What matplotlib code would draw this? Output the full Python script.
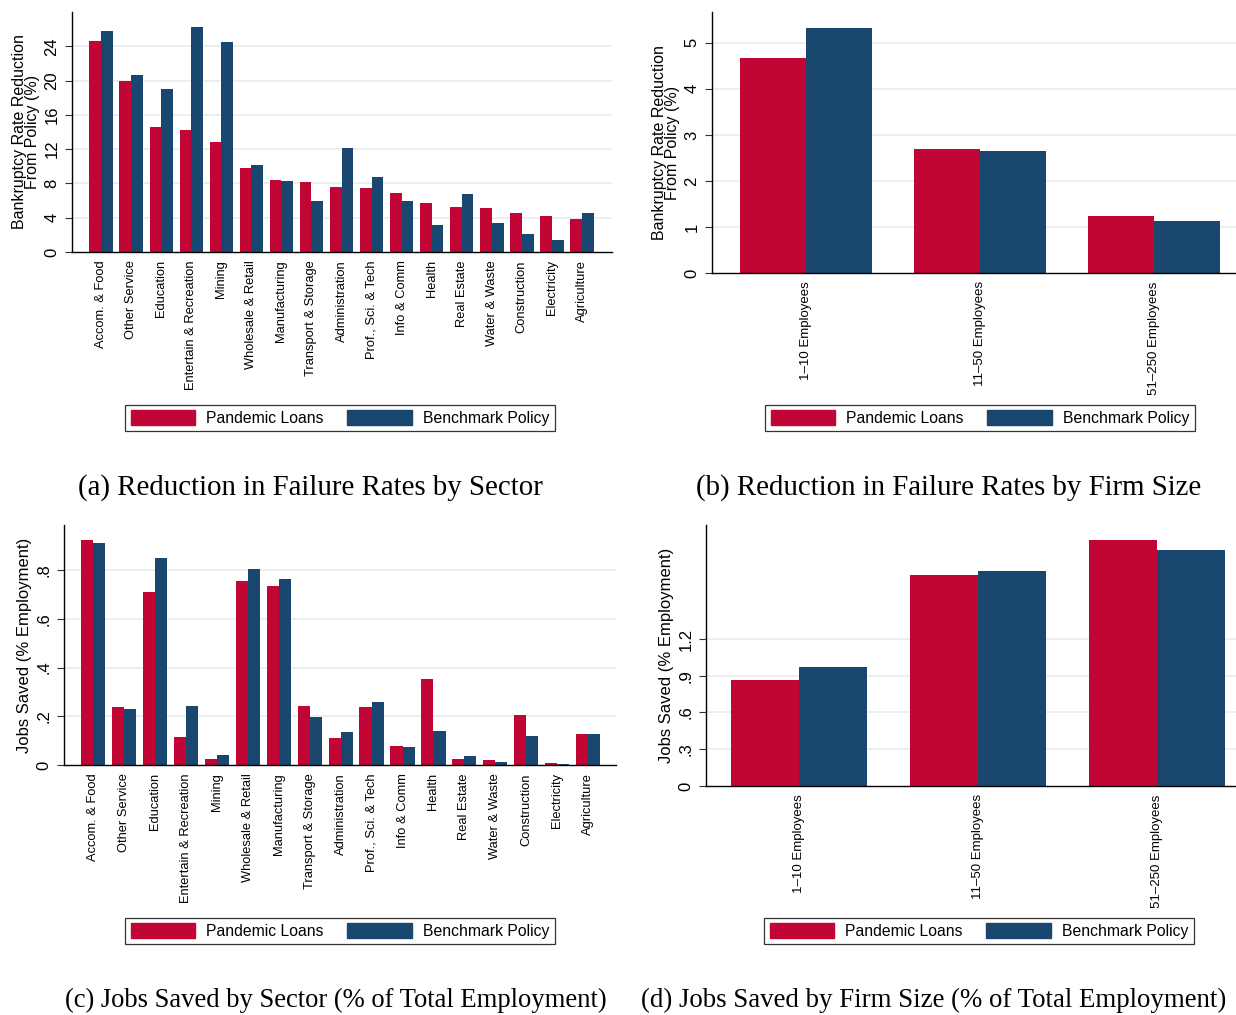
import numpy as np
import matplotlib
matplotlib.use("Agg")
import matplotlib.pyplot as plt
from matplotlib.patches import Patch

plt.rcParams['font.family'] = ['Liberation Sans', 'DejaVu Sans']

# sector data
sectors = ["Accom. & Food", "Other Service", "Education", "Entertain & Recreation",
           "Mining", "Wholesale & Retail", "Manufacturing", "Transport & Storage",
           "Administration", "Prof., Sci. & Tech", "Info & Comm", "Health",
           "Real Estate", "Water & Waste", "Construction", "Electricity", "Agriculture"]
fail_loans = [24.6, 19.9, 14.6, 14.2, 12.8, 9.8, 8.4, 8.2, 7.6, 7.5, 6.9, 5.7, 5.3, 5.1, 4.5, 4.2, 3.8]
fail_bench = [25.8, 20.6, 19.0, 26.3, 24.5, 10.2, 8.3, 5.9, 12.1, 8.8, 5.9, 3.2, 6.8, 3.4, 2.1, 1.4, 4.6]
jobs_loans = [0.925, 0.240, 0.709, 0.114, 0.023, 0.754, 0.735, 0.241, 0.110, 0.237,
              0.077, 0.353, 0.026, 0.021, 0.204, 0.007, 0.128]
jobs_bench = [0.912, 0.228, 0.849, 0.244, 0.043, 0.805, 0.765, 0.195, 0.134, 0.257,
              0.075, 0.139, 0.038, 0.014, 0.121, 0.004, 0.128]

# firm size data
sizes = ["1\u201310 Employees", "11\u201350 Employees", "51\u2013250 Employees"]
size_fail_loans = [4.66, 2.69, 1.23]
size_fail_bench = [5.32, 2.65, 1.12]
size_jobs_loans = [0.868, 1.722, 2.005]
size_jobs_bench = [0.971, 1.758, 1.924]

RED = "#C10534"
BLUE = "#1A476F"
GRID = "#E6EEF0"

W, H = 1236, 1015
fig = plt.figure(figsize=(W / 100, H / 100), dpi=100)


def px_axes(left, top, right, bottom):
    return fig.add_axes([left / W, 1 - bottom / H, (right - left) / W, (bottom - top) / H])


def draw(ax, cats, a, b, width, xlim, ylim, yticks, ylabels, ylabel, xfs, ylfs):
    x = np.arange(len(cats))
    ax.bar(x - width / 2, a, width, color=RED, zorder=2)
    ax.bar(x + width / 2, b, width, color=BLUE, zorder=2)
    ax.set_xlim(*xlim)
    ax.set_ylim(*ylim)
    ax.set_xticks(x)
    ax.set_xticklabels(cats, rotation=90, fontsize=xfs, va='top', ha='center')
    ax.set_yticks(yticks)
    ax.set_yticklabels(ylabels, fontsize=12, rotation=90, va='center')
    ax.tick_params(axis='x', length=0, pad=6)
    ax.tick_params(axis='y', length=5, width=0.8, pad=4, color='#333333')
    for t in yticks[1:]:
        ax.axhline(t, color=GRID, lw=1.2, zorder=1)
    for s in ['top', 'right']:
        ax.spines[s].set_visible(False)
    for s in ['left', 'bottom']:
        ax.spines[s].set_color('black')
        ax.spines[s].set_linewidth(1.0)
    ax.set_ylabel(ylabel, fontsize=ylfs, linespacing=0.9, labelpad=3)


def legend(cx, cy):
    handles = [Patch(color=RED), Patch(color=BLUE)]
    leg = fig.legend(handles, ["Pandemic Loans", "Benchmark Policy"], loc='center',
                     bbox_to_anchor=(cx / W, 1 - cy / H), ncol=2, fontsize=11.3,
                     frameon=True, fancybox=False, edgecolor='black',
                     handlelength=4.1, handleheight=1.1, columnspacing=1.5,
                     handletextpad=0.7, borderpad=0.35)
    leg.get_frame().set_linewidth(0.9)


ylab_fail = "Bankruptcy Rate Reduction\nFrom Policy (%)"

ax_a = px_axes(72, 12, 612, 252)
draw(ax_a, sectors, fail_loans, fail_bench, 0.39, (-0.97, 17.0), (0, 28),
     [0, 4, 8, 12, 16, 20, 24], ["0", "4", "8", "12", "16", "20", "24"],
     ylab_fail, 9.3, 11.5)

ax_b = px_axes(712, 12, 1236, 273)
draw(ax_b, sizes, size_fail_loans, size_fail_bench, 0.38, (-0.54, 2.47), (0, 5.67),
     [0, 1, 2, 3, 4, 5], ["0", "1", "2", "3", "4", "5"],
     ylab_fail, 9.5, 11.5)

ax_c = px_axes(64, 525, 616, 765)
draw(ax_c, sectors, jobs_loans, jobs_bench, 0.39, (-0.94, 16.9), (0, 0.985),
     [0, 0.2, 0.4, 0.6, 0.8], ["0", ".2", ".4", ".6", ".8"],
     "Jobs Saved (% Employment)", 9.3, 12)

ax_d = px_axes(706, 525, 1236, 786)
draw(ax_d, sizes, size_jobs_loans, size_jobs_bench, 0.38, (-0.52, 2.44), (0, 2.13),
     [0, 0.3, 0.6, 0.9, 1.2], ["0", ".3", ".6", ".9", "1.2"],
     "Jobs Saved (% Employment)", 9.5, 12)

legend(340, 418)
legend(980, 418)
legend(340, 931)
legend(979, 931)

serif = ['Liberation Serif', 'DejaVu Serif']
fig.text(310 / W, 1 - 488 / H, "(a) Reduction in Failure Rates by Sector",
         ha='center', va='center', fontsize=20.8, family=serif)
fig.text(949 / W, 1 - 488 / H, "(b) Reduction in Failure Rates by Firm Size",
         ha='center', va='center', fontsize=20.8, family=serif)
fig.text(336 / W, 1 - 1000 / H, "(c) Jobs Saved by Sector (% of Total Employment)",
         ha='center', va='center', fontsize=19.2, family=serif)
fig.text(641 / W, 1 - 1000 / H, "(d) Jobs Saved by Firm Size (% of Total Employment)",
         ha='left', va='center', fontsize=19.4, family=serif)

fig.savefig("out.png", dpi=100)
